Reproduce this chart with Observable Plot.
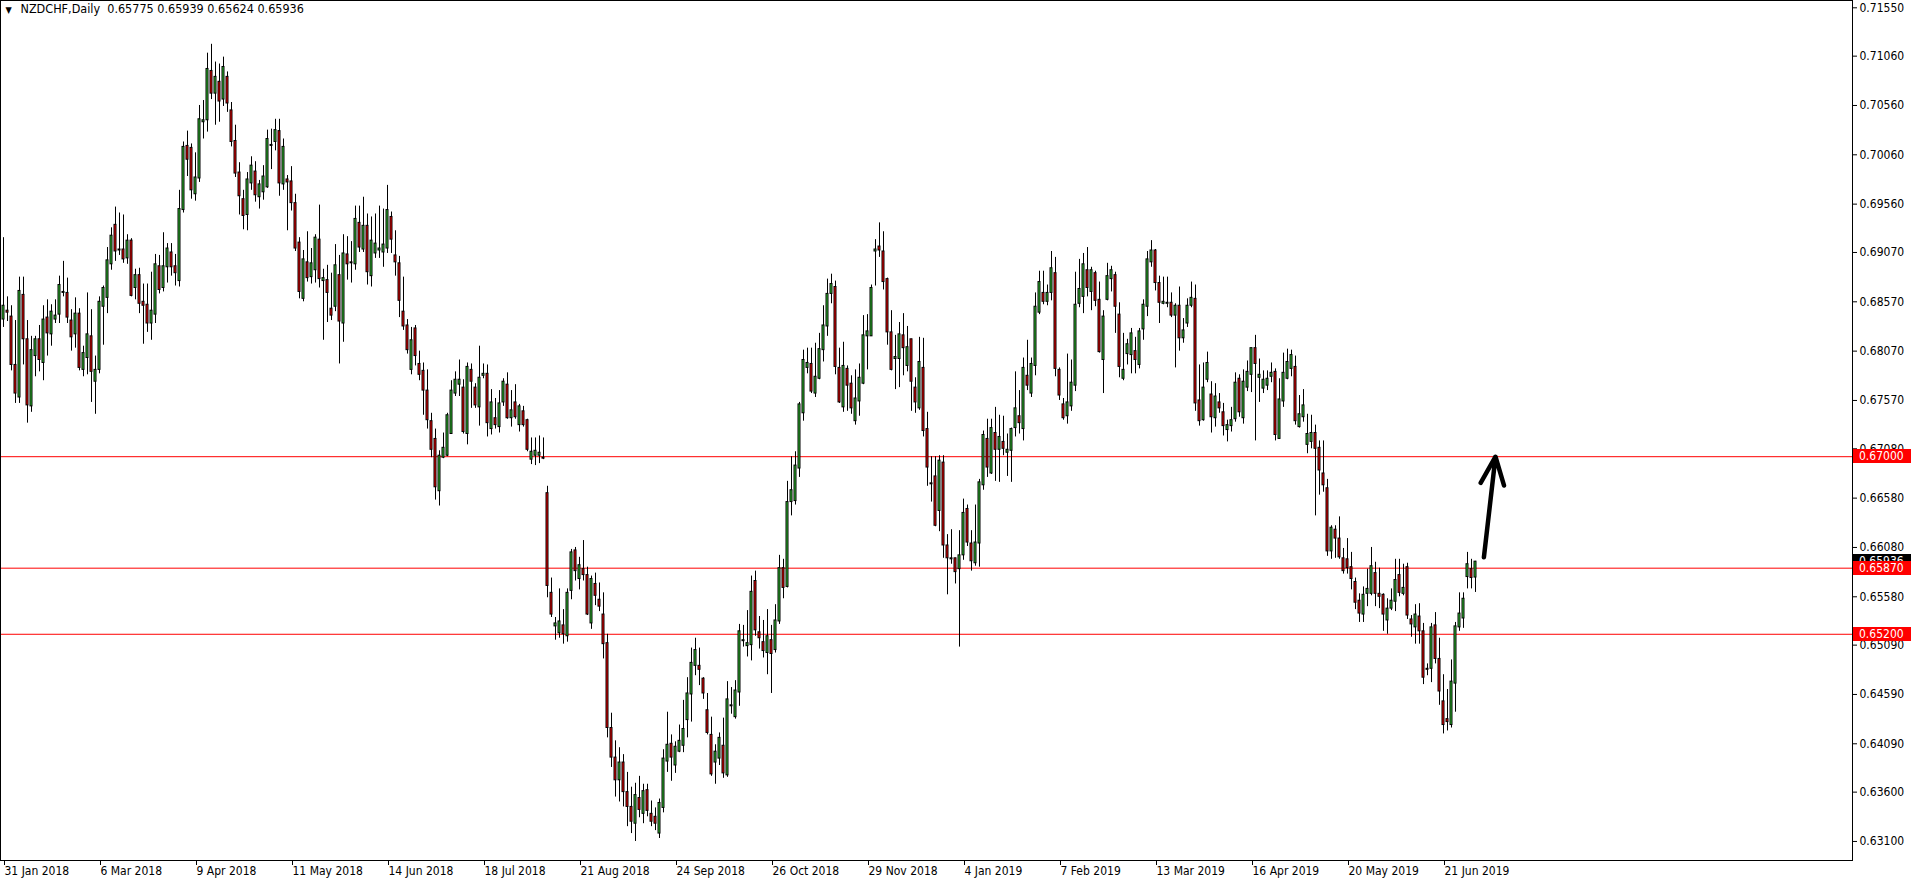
<!DOCTYPE html>
<html><head><meta charset="utf-8">
<script src="https://cdn.jsdelivr.net/npm/d3@7"></script>
<script src="https://cdn.jsdelivr.net/npm/@observablehq/plot@0.6"></script>
<style>html,body{margin:0;padding:0;background:#fff;overflow:hidden}</style>
</head><body>
<script>
const symbolName = "NZDCHF,Daily";
const lastOHLC = [0.65775, 0.65939, 0.65624, 0.65936];

const open = [
0.6839,0.6848,0.6842,0.6793,0.6760,0.6864,0.6819,0.6751,0.6802,0.6819,
0.6795,0.6841,0.6824,0.6839,0.6844,0.6866,0.6866,0.6838,0.6824,0.6845,
0.6788,0.6800,0.6822,0.6776,0.6788,0.6852,0.6861,0.6895,0.6935,0.6910,
0.6910,0.6901,0.6919,0.6871,0.6884,0.6857,0.6854,0.6835,0.6844,0.6893,
0.6871,0.6892,0.6907,0.6893,0.6878,0.6950,0.7015,0.7013,0.6966,0.6982,
0.7039,0.7041,0.7091,0.7068,0.7080,0.7062,0.7085,0.7051,0.7020,0.6988,
0.6961,0.6945,0.6977,0.6989,0.6963,0.6968,0.6973,0.7016,0.7019,0.7030,
0.6976,0.6981,0.6979,0.6957,0.6917,0.6860,0.6897,0.6882,0.6889,0.6920,
0.6878,0.6879,0.6850,0.6852,0.6884,0.6835,0.6905,0.6897,0.6895,0.6937,
0.6910,0.6934,0.6883,0.6906,0.6909,0.6907,0.6911,0.6943,0.6904,0.6896,
0.6847,0.6833,0.6788,0.6830,0.6794,0.6787,0.6767,0.6736,0.6718,0.6665,
0.6699,0.6701,0.6723,0.6764,0.6773,0.6770,0.6723,0.6788,0.6770,0.6750,
0.6782,0.6784,0.6728,0.6739,0.6730,0.6755,0.6773,0.6739,0.6755,0.6732,
0.6746,0.6737,0.6697,0.6701,0.6701,0.6699,0.6663,0.6562,0.6528,0.6521,
0.6529,0.6518,0.6564,0.6605,0.6576,0.6586,0.6580,0.6531,0.6571,0.6555,
0.6540,0.6511,0.6425,0.6395,0.6372,0.6390,0.6360,0.6345,0.6328,0.6354,
0.6338,0.6362,0.6338,0.6335,0.6318,0.6344,0.6391,0.6409,0.6387,0.6401,
0.6407,0.6433,0.6459,0.6488,0.6488,0.6475,0.6443,0.6418,0.6390,0.6394,
0.6407,0.6377,0.6447,0.6436,0.6461,0.6513,0.6508,0.6509,0.6574,0.6522,
0.6512,0.6501,0.6514,0.6504,0.6533,0.6587,0.6568,0.6654,0.6655,0.6688,
0.6744,0.6790,0.6794,0.6764,0.6779,0.6808,0.6832,0.6865,0.6872,0.6790,
0.6750,0.6789,0.6774,0.6736,0.6756,0.6774,0.6822,0.6822,0.6908,0.6913,
0.6908,0.6880,0.6826,0.6799,0.6799,0.6823,0.6792,0.6819,0.6770,0.6749,
0.6790,0.6728,0.6673,0.6680,0.6645,0.6694,0.6610,0.6597,0.6597,0.6586,
0.6600,0.6647,0.6612,0.6592,0.6612,0.6671,0.6718,0.6683,0.6724,0.6707,
0.6715,0.6704,0.6706,0.6729,0.6741,0.6728,0.6782,0.6764,0.6792,0.6846,
0.6866,0.6857,0.6866,0.6886,0.6788,0.6753,0.6741,0.6751,0.6772,0.6855,
0.6862,0.6889,0.6867,0.6886,0.6859,0.6798,0.6859,0.6880,0.6884,0.6844,
0.6779,0.6804,0.6803,0.6807,0.6793,0.6829,0.6852,0.6897,0.6909,0.6876,
0.6855,0.6855,0.6856,0.6843,0.6853,0.6820,0.6835,0.6853,0.6860,0.6757,
0.6737,0.6778,0.6763,0.6739,0.6755,0.6745,0.6727,0.6731,0.6738,0.6779,
0.6739,0.6770,0.6783,0.6810,0.6780,0.6769,0.6772,0.6781,0.6786,0.6718,
0.6756,0.6779,0.6789,0.6791,0.6730,0.6740,0.6712,0.6715,0.6724,0.6709,
0.6683,0.6668,0.6604,0.6626,0.6617,0.6597,0.6596,0.6588,0.6573,0.6554,
0.6540,0.6561,0.6561,0.6582,0.6561,0.6560,0.6534,0.6546,0.6553,0.6580,
0.6561,0.6588,0.6535,0.6527,0.6538,0.6523,0.6485,0.6485,0.6529,0.6495,
0.6452,0.6434,0.6428,0.6470,0.6527,0.6536,0.6578,0.6586,0.65775];

const high = [
0.6922,0.6862,0.6853,0.6838,0.6882,0.6882,0.6838,0.6822,0.6822,0.6833,
0.6853,0.6859,0.6854,0.6859,0.6883,0.6898,0.6881,0.6849,0.6861,0.6850,
0.6812,0.6866,0.6849,0.6802,0.6862,0.6873,0.6912,0.6932,0.6953,0.6947,
0.6945,0.6925,0.6921,0.6890,0.6891,0.6875,0.6875,0.6887,0.6905,0.6904,
0.6927,0.6916,0.6916,0.6905,0.6970,0.7019,0.7030,0.7017,0.7008,0.7056,
0.7061,0.7109,0.7118,0.7100,0.7098,0.7105,0.7090,0.7059,0.7036,0.6998,
0.6970,0.6988,0.7004,0.6999,0.6980,0.6995,0.7031,0.7032,0.7042,0.7042,
0.7022,0.6985,0.6994,0.6966,0.6922,0.6909,0.6928,0.6911,0.6925,0.6955,
0.6890,0.6894,0.6886,0.6915,0.6904,0.6925,0.6923,0.6918,0.6954,0.6954,
0.6963,0.6946,0.6943,0.6946,0.6954,0.6951,0.6975,0.6948,0.6929,0.6903,
0.6882,0.6839,0.6831,0.6833,0.6807,0.6795,0.6788,0.6744,0.6728,0.6706,
0.6724,0.6744,0.6777,0.6786,0.6798,0.6778,0.6795,0.6794,0.6774,0.6812,
0.6794,0.6793,0.6768,0.6759,0.6767,0.6779,0.6785,0.6767,0.6773,0.6753,
0.6751,0.6738,0.6719,0.6719,0.6721,0.6719,0.6670,0.6577,0.6537,0.6566,
0.6545,0.6566,0.6606,0.6608,0.6598,0.6615,0.6588,0.6579,0.6582,0.6572,
0.6562,0.6520,0.6440,0.6412,0.6405,0.6398,0.6380,0.6365,0.6369,0.6376,
0.6368,0.6368,0.6351,0.6344,0.6353,0.6403,0.6441,0.6418,0.6411,0.6428,
0.6453,0.6476,0.6506,0.6516,0.6506,0.6476,0.6460,0.6436,0.6408,0.6420,
0.6435,0.6472,0.6466,0.6473,0.6530,0.6529,0.6544,0.6579,0.6584,0.6538,
0.6534,0.6545,0.6529,0.6550,0.6600,0.6596,0.6675,0.6700,0.6705,0.6755,
0.6808,0.6810,0.6810,0.6815,0.6825,0.6853,0.6880,0.6885,0.6878,0.6810,
0.6816,0.6792,0.6782,0.6788,0.6794,0.6843,0.6844,0.6874,0.6920,0.6937,
0.6928,0.6881,0.6848,0.6823,0.6836,0.6845,0.6832,0.6819,0.6780,0.6821,
0.6820,0.6745,0.6700,0.6700,0.6701,0.6701,0.6621,0.6626,0.6597,0.6625,
0.6657,0.6651,0.6625,0.6651,0.6677,0.6726,0.6738,0.6738,0.6750,0.6742,
0.6741,0.6723,0.6729,0.6786,0.6767,0.6800,0.6818,0.6800,0.6866,0.6888,
0.6888,0.6874,0.6908,0.6902,0.6790,0.6759,0.6804,0.6798,0.6887,0.6900,
0.6906,0.6912,0.6892,0.6888,0.6877,0.6848,0.6896,0.6893,0.6887,0.6856,
0.6825,0.6819,0.6830,0.6821,0.6830,0.6859,0.6908,0.6919,0.6910,0.6883,
0.6882,0.6882,0.6866,0.6855,0.6872,0.6840,0.6860,0.6877,0.6874,0.6793,
0.6795,0.6806,0.6776,0.6774,0.6764,0.6754,0.6737,0.6750,0.6785,0.6783,
0.6788,0.6797,0.6810,0.6823,0.6799,0.6787,0.6787,0.6795,0.6789,0.6779,
0.6805,0.6809,0.6808,0.6802,0.6762,0.6768,0.6743,0.6742,0.6732,0.6716,
0.6716,0.6677,0.6630,0.6630,0.6639,0.6607,0.6617,0.6603,0.6577,0.6561,
0.6568,0.6586,0.6608,0.6593,0.6587,0.6561,0.6556,0.6566,0.6596,0.6596,
0.6591,0.6592,0.6539,0.6550,0.6551,0.6531,0.6490,0.6531,0.6542,0.6516,
0.6479,0.6464,0.6494,0.6532,0.6562,0.6562,0.6603,0.6596,0.65939];

const low = [
0.6831,0.6837,0.6787,0.6754,0.6754,0.6793,0.6734,0.6745,0.6781,0.6786,
0.6777,0.6802,0.6812,0.6835,0.6835,0.6862,0.6835,0.6807,0.6810,0.6787,
0.6781,0.6783,0.6755,0.6743,0.6784,0.6813,0.6845,0.6889,0.6898,0.6904,
0.6896,0.6895,0.6862,0.6859,0.6845,0.6814,0.6826,0.6818,0.6835,0.6865,
0.6867,0.6876,0.6883,0.6873,0.6872,0.6947,0.6984,0.6961,0.6959,0.6978,
0.7022,0.7029,0.7062,0.7036,0.7039,0.7055,0.7049,0.7014,0.6983,0.6945,
0.6930,0.6929,0.6970,0.6958,0.6951,0.6960,0.6972,0.6991,0.7010,0.6964,
0.6970,0.6929,0.6949,0.6908,0.6860,0.6857,0.6877,0.6875,0.6876,0.6871,
0.6818,0.6836,0.6838,0.6847,0.6794,0.6816,0.6879,0.6876,0.6889,0.6907,
0.6907,0.6874,0.6872,0.6901,0.6901,0.6892,0.6906,0.6906,0.6883,0.6841,
0.6828,0.6804,0.6783,0.6792,0.6777,0.6742,0.6728,0.6699,0.6656,0.6650,
0.6698,0.6700,0.6723,0.6761,0.6761,0.6723,0.6712,0.6749,0.6749,0.6731,
0.6779,0.6720,0.6722,0.6728,0.6724,0.6751,0.6738,0.6730,0.6738,0.6725,
0.6730,0.6705,0.6692,0.6691,0.6693,0.6697,0.6557,0.6537,0.6514,0.6516,
0.6510,0.6512,0.6555,0.6574,0.6565,0.6574,0.6539,0.6525,0.6549,0.6543,
0.6495,0.6415,0.6385,0.6355,0.6350,0.6345,0.6325,0.6318,0.6310,0.6334,
0.6328,0.6335,0.6325,0.6321,0.6313,0.6339,0.6380,0.6371,0.6379,0.6400,
0.6400,0.6415,0.6431,0.6478,0.6468,0.6454,0.6418,0.6376,0.6368,0.6387,
0.6374,0.6375,0.6439,0.6434,0.6447,0.6507,0.6497,0.6493,0.6518,0.6505,
0.6496,0.6479,0.6460,0.6501,0.6530,0.6556,0.6567,0.6640,0.6651,0.6679,
0.6736,0.6784,0.6764,0.6760,0.6778,0.6796,0.6822,0.6855,0.6783,0.6754,
0.6745,0.6746,0.6743,0.6732,0.6741,0.6773,0.6788,0.6822,0.6873,0.6902,
0.6869,0.6813,0.6787,0.6768,0.6770,0.6782,0.6786,0.6746,0.6744,0.6747,
0.6720,0.6670,0.6654,0.6629,0.6624,0.6597,0.6560,0.6591,0.6571,0.6507,
0.6595,0.6609,0.6584,0.6589,0.6588,0.6666,0.6679,0.6682,0.6675,0.6674,
0.6701,0.6680,0.6674,0.6720,0.6723,0.6716,0.6767,0.6760,0.6782,0.6844,
0.6854,0.6853,0.6858,0.6781,0.6757,0.6737,0.6733,0.6746,0.6766,0.6851,
0.6845,0.6862,0.6848,0.6852,0.6805,0.6764,0.6858,0.6867,0.6825,0.6780,
0.6777,0.6793,0.6784,0.6784,0.6789,0.6818,0.6842,0.6892,0.6868,0.6835,
0.6854,0.6851,0.6841,0.6790,0.6807,0.6815,0.6831,0.6851,0.6746,0.6731,
0.6736,0.6775,0.6724,0.6730,0.6744,0.6721,0.6715,0.6725,0.6735,0.6740,
0.6733,0.6766,0.6765,0.6716,0.6755,0.6764,0.6767,0.6775,0.6716,0.6718,
0.6750,0.6778,0.6781,0.6732,0.6729,0.6735,0.6703,0.6708,0.6640,0.6661,
0.6664,0.6599,0.6596,0.6597,0.6596,0.6581,0.6581,0.6565,0.6545,0.6532,
0.6532,0.6548,0.6559,0.6548,0.6546,0.6523,0.6520,0.6544,0.6543,0.6558,
0.6559,0.6535,0.6517,0.6510,0.6510,0.6469,0.6478,0.6471,0.6490,0.6448,
0.6419,0.6422,0.6425,0.6441,0.6523,0.6526,0.6566,0.6566,0.65624];

const close = [
0.6853,0.6846,0.6793,0.6764,0.6868,0.6819,0.6752,0.6808,0.6819,0.6798,
0.6839,0.6825,0.6847,0.6843,0.6874,0.6867,0.6841,0.6821,0.6845,0.6790,
0.6805,0.6824,0.6786,0.6788,0.6857,0.6871,0.6899,0.6924,0.6908,0.6909,
0.6900,0.6919,0.6863,0.6884,0.6855,0.6853,0.6835,0.6848,0.6895,0.6869,
0.6893,0.6911,0.6892,0.6886,0.6951,0.7014,0.7001,0.6970,0.6983,0.7042,
0.7041,0.7093,0.7068,0.7085,0.7060,0.7095,0.7058,0.7019,0.6987,0.6964,
0.6944,0.6981,0.6995,0.6965,0.6976,0.6984,0.7022,0.7015,0.7031,0.6977,
0.7014,0.6978,0.6957,0.6911,0.6867,0.6900,0.6881,0.6896,0.6922,0.6880,
0.6881,0.6866,0.6843,0.6894,0.6837,0.6906,0.6895,0.6896,0.6941,0.6912,
0.6934,0.6887,0.6919,0.6916,0.6911,0.6915,0.6950,0.6920,0.6897,0.6858,
0.6832,0.6808,0.6818,0.6802,0.6783,0.6767,0.6737,0.6707,0.6669,0.6701,
0.6709,0.6742,0.6767,0.6778,0.6778,0.6725,0.6791,0.6776,0.6752,0.6780,
0.6784,0.6734,0.6755,0.6732,0.6754,0.6776,0.6739,0.6747,0.6740,0.6751,
0.6732,0.6707,0.6705,0.6706,0.6704,0.6698,0.6569,0.6540,0.6531,0.6533,
0.6520,0.6562,0.6603,0.6584,0.6590,0.6580,0.6540,0.6576,0.6559,0.6548,
0.6510,0.6425,0.6395,0.6372,0.6390,0.6360,0.6345,0.6330,0.6357,0.6342,
0.6361,0.6341,0.6330,0.6328,0.6349,0.6394,0.6408,0.6395,0.6406,0.6412,
0.6424,0.6460,0.6491,0.6504,0.6484,0.6460,0.6420,0.6378,0.6401,0.6415,
0.6379,0.6454,0.6448,0.6463,0.6523,0.6514,0.6511,0.6563,0.6524,0.6516,
0.6503,0.6518,0.6500,0.6534,0.6587,0.6567,0.6654,0.6666,0.6691,0.6753,
0.6798,0.6795,0.6766,0.6781,0.6809,0.6833,0.6865,0.6875,0.6791,0.6755,
0.6792,0.6772,0.6749,0.6759,0.6780,0.6823,0.6827,0.6871,0.6910,0.6909,
0.6877,0.6826,0.6788,0.6801,0.6824,0.6810,0.6811,0.6776,0.6755,0.6796,
0.6726,0.6689,0.6672,0.6630,0.6696,0.6610,0.6597,0.6596,0.6583,0.6600,
0.6643,0.6613,0.6594,0.6613,0.6674,0.6722,0.6689,0.6729,0.6707,0.6720,
0.6708,0.6707,0.6728,0.6749,0.6734,0.6790,0.6772,0.6794,0.6852,0.6877,
0.6857,0.6866,0.6891,0.6789,0.6762,0.6739,0.6755,0.6775,0.6854,0.6870,
0.6895,0.6871,0.6889,0.6858,0.6806,0.6842,0.6883,0.6889,0.6852,0.6791,
0.6788,0.6814,0.6825,0.6798,0.6827,0.6854,0.6900,0.6909,0.6876,0.6856,
0.6857,0.6856,0.6843,0.6853,0.6820,0.6828,0.6853,0.6861,0.6754,0.6736,
0.6770,0.6795,0.6740,0.6761,0.6749,0.6731,0.6732,0.6737,0.6775,0.6745,
0.6776,0.6786,0.6810,0.6794,0.6783,0.6778,0.6779,0.6785,0.6722,0.6758,
0.6785,0.6796,0.6803,0.6736,0.6743,0.6752,0.6723,0.6724,0.6708,0.6686,
0.6671,0.6604,0.6628,0.6617,0.6598,0.6584,0.6587,0.6576,0.6552,0.6541,
0.6560,0.6566,0.6589,0.6561,0.6558,0.6540,0.6546,0.6554,0.6575,0.6562,
0.6567,0.6539,0.6530,0.6540,0.6523,0.6476,0.6484,0.6527,0.6495,0.6462,
0.6428,0.6431,0.6472,0.6528,0.6541,0.6556,0.6591,0.6577,0.65936];

const priceTicks = [0.71550,0.71060,0.70560,0.70060,0.69560,0.69070,0.68570,0.68070,0.67570,0.67080,0.66580,0.66080,0.65580,0.65090,0.64590,0.64090,0.63600,0.63100];
const dateTickBars = [0,24,48,72,96,120,144,168,192,216,240,264,288,312,336,360];
const dateTickLabels = ["31 Jan 2018","6 Mar 2018","9 Apr 2018","11 May 2018","14 Jun 2018","18 Jul 2018","21 Aug 2018","24 Sep 2018","26 Oct 2018","29 Nov 2018","4 Jan 2019","7 Feb 2019","13 Mar 2019","16 Apr 2019","20 May 2019","21 Jun 2019"];
const levelPrices = [0.67000, 0.65870, 0.65200];
const currentPrice = 0.65936;
const arrowFromBar = 370.1, arrowFromPrice = 0.6598;
const arrowToBar = 373.0, arrowToPrice = 0.6700;

const FONT = "'DejaVu Sans Condensed', 'Liberation Sans', Arial, sans-serif";
const bars = open.map((o, i) => ({i, o, h: high[i], l: low[i], c: close[i]}));
const header = symbolName + "\u00a0\u00a0" + lastOHLC.map(v => v.toFixed(5)).join(" ");

const chart = Plot.plot({
  width: 1916, height: 884,
  marginLeft: 0, marginRight: 64, marginTop: 0, marginBottom: 24,
  style: {fontFamily: FONT, fontSize: "12px", background: "#fff", color: "#000", overflow: "visible"},
  x: {type: "linear", domain: [-0.75, 462.25], axis: null},
  y: {type: "linear", domain: [0.62907, 0.71624], axis: null},
  marks: [
    Plot.ruleY(levelPrices, {stroke: "#ff0000", strokeWidth: 1}),
    Plot.ruleX(bars, {x: "i", y1: "l", y2: "h", stroke: "#000", strokeWidth: 1}),
    Plot.rect(bars, {
      x1: d => d.i - 0.25, x2: d => d.i + 0.25,
      y1: d => Math.min(d.o, d.c), y2: d => Math.max(d.o, d.c),
      fill: d => d.c >= d.o ? "#32cd32" : "#ff0000",
      stroke: "#000", strokeWidth: 1
    }),
    Plot.frame({stroke: "#000"}),
    Plot.axisY({anchor: "right", ticks: priceTicks, tickFormat: d => d.toFixed(5), tickSize: 4, tickPadding: 3, fill: "#000", stroke: "#000"}),
    Plot.axisX({anchor: "bottom", ticks: dateTickBars, tickFormat: d => dateTickLabels[dateTickBars.indexOf(d)], tickSize: 5, tickPadding: 1, textAnchor: "start", dx: 1, fill: "#000", stroke: "#000"}),
    Plot.arrow([{x1: arrowFromBar, y1: arrowFromPrice, x2: arrowToBar, y2: arrowToPrice}], {
      x1: "x1", y1: "y1", x2: "x2", y2: "y2", stroke: "#000", strokeWidth: 4.5, headLength: 10, headAngle: 46, strokeLinecap: "round"
    }),
    Plot.text(["\u25BC"], {frameAnchor: "top-left", dx: 5, dy: 6, lineAnchor: "top", textAnchor: "start", fontSize: 9, fill: "#000"}),
    Plot.text([header], {frameAnchor: "top-left", dx: 20, dy: 4, lineAnchor: "top", textAnchor: "start", fontSize: 12.5, fill: "#000"})
  ]
});
document.body.appendChild(chart);

// price labels on the right axis (current price black, levels red)
const ys = chart.scale("y");
const xs = chart.scale("x");
const axisX0 = xs.range[1];
const g = d3.select(chart).append("g")
  .attr("font-family", FONT).attr("font-size", 12).attr("text-anchor", "start");
function priceLabel(p, bg) {
  const yy = Math.round(ys.apply(p));
  g.append("rect").attr("x", axisX0 + 1).attr("y", yy - 7).attr("width", 58).attr("height", 14).attr("fill", bg);
  g.append("text").attr("x", axisX0 + 7).attr("y", yy).attr("dy", "0.36em")
    .attr("text-anchor", "start").attr("fill", "#fff").text(p.toFixed(5));
}
priceLabel(currentPrice, "#000");
levelPrices.forEach(p => priceLabel(p, "#ff0000"));
</script>
</body></html>
